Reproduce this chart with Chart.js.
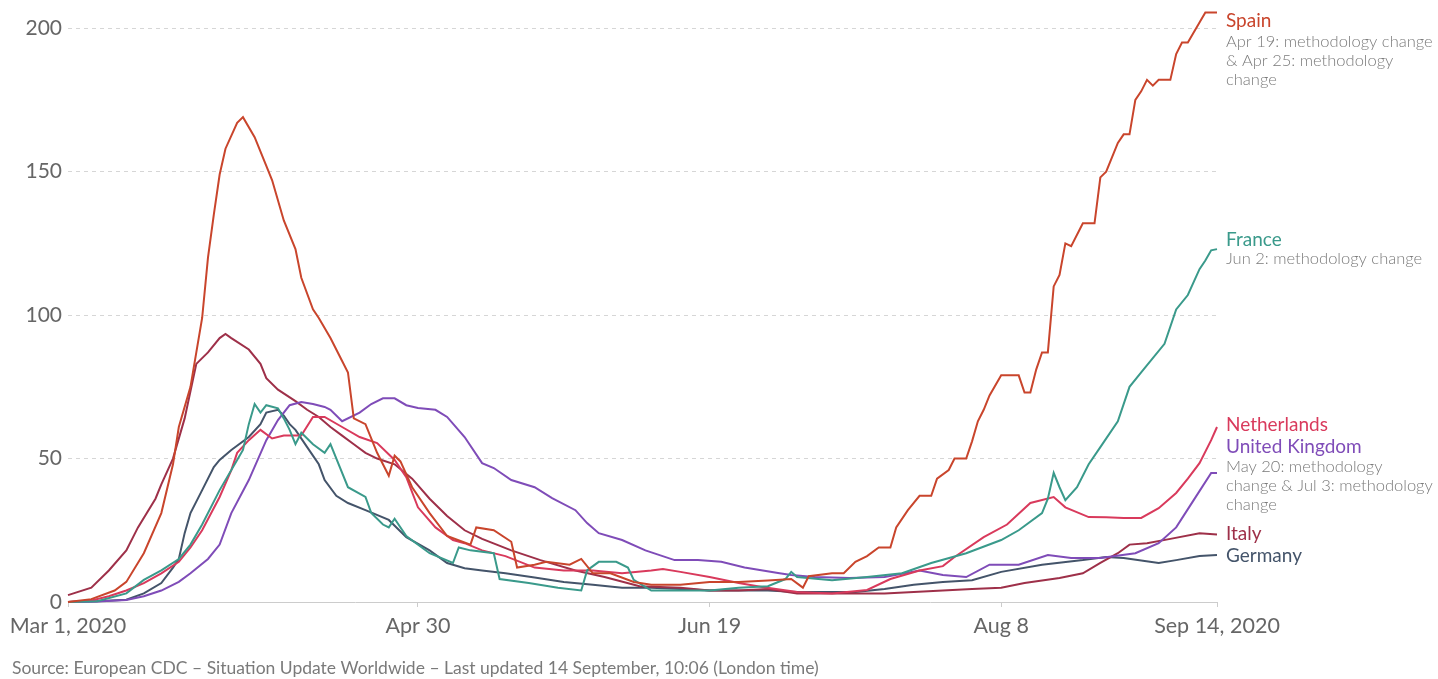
<!DOCTYPE html>
<html>
<head>
<meta charset="utf-8">
<script src="https://cdn.jsdelivr.net/npm/chart.js@4"></script>
<style>
  body { margin: 0; background: #fff; }
  canvas { display: block; }
</style>
</head>
<body>
<canvas id="chart" width="1438" height="679"></canvas>
<script>
// days counted from Mar 1, 2020
const tickDays = [0, 60, 110, 160, 197];
const tickLabels = ['Mar 1, 2020', 'Apr 30', 'Jun 19', 'Aug 8', 'Sep 14, 2020'];

const spainDays = [0, 4, 8, 10, 13, 16, 18, 19, 21, 23, 24, 25, 26, 27, 29, 30, 32, 34, 35, 37, 39, 40, 42, 43, 45, 47, 48, 49, 51, 53, 55, 56, 57, 59, 62, 65, 69, 70, 73, 76, 77, 80, 82, 86, 88, 90, 93, 97, 100, 105, 110, 115, 120, 124, 126, 127, 131, 133, 135, 137, 139, 141, 142, 144, 146, 148, 149, 151, 152, 154, 155, 156, 157, 158, 160, 162, 163, 164, 165, 166, 167, 168, 169, 170, 171, 172, 174, 176, 177, 178, 180, 181, 182, 183, 184, 185, 186, 187, 189, 190, 191, 192, 194, 195, 197];
const spainValues = [0, 1, 4, 7, 17, 31, 48, 61, 75, 99, 120, 135, 149, 158, 167, 169, 162, 152, 147, 133, 123, 113, 102, 99, 92, 84, 80, 64, 62, 52, 44, 51, 49, 40, 31, 23, 20, 26, 25, 21, 12, 13, 14, 13, 15, 10, 10, 7, 6, 6, 7, 7, 7.5, 8, 5, 9, 10, 10, 14, 16, 19, 19, 26, 32, 37, 37, 43, 46, 50, 50, 56, 63, 67, 72, 79, 79, 79, 73, 73, 81, 87, 87, 110, 114, 125, 124, 132, 132, 148, 150, 160, 163, 163, 175, 178, 182, 180, 182, 182, 191, 195, 195, 202, 205.5, 205.5];

const franceDays = [0, 5, 10, 13, 16, 19, 21, 23, 26, 29, 30, 31, 32, 33, 34, 36, 37, 38, 39, 40, 42, 44, 45, 48, 51, 52, 54, 55, 56, 58, 62, 66, 67, 69, 73, 74, 79, 84, 88, 89, 91, 94, 96, 97, 100, 105, 110, 115, 120, 123, 124, 125, 131, 137, 143, 148, 154, 160, 163, 167, 168, 169, 170, 171, 173, 175, 177, 180, 182, 184, 188, 190, 192, 194, 195, 196, 197];
const franceValues = [0, 0.3, 3, 7.7, 11, 15, 20, 27, 39, 49.5, 53, 62, 69, 66, 68.6, 67.5, 64, 60, 55, 59, 55, 52, 55, 40, 36.6, 31, 27, 26, 29, 23, 17, 13.6, 19, 18, 17, 8, 6.6, 5, 4, 11, 14, 14, 12, 7.7, 4, 4, 4, 5, 5.5, 8, 10.5, 8.7, 7.6, 8.7, 10, 13.6, 17, 21.6, 25, 31, 36, 45, 40, 35.5, 40, 48, 54, 63, 75, 80, 90, 102, 107, 116, 119, 122.6, 123];

const netherlandsDays = [0, 4, 7, 10, 13, 16, 19, 21, 23, 26, 28, 29, 31, 33, 35, 37, 40, 42, 44, 47, 50, 53, 56, 58, 60, 63, 66, 68, 71, 75, 80, 85, 90, 95, 100, 102, 105, 110, 115, 119, 125, 131, 137, 141, 146, 150, 152, 157, 161, 165, 169, 171, 175, 178, 181, 184, 187, 190, 192, 194, 196, 197];
const netherlandsValues = [0, 0.5, 2, 4, 6.6, 10, 14, 19, 25, 36.6, 46, 52, 56.4, 60, 57, 58, 58, 64.5, 64.5, 61, 57.5, 55.4, 49.5, 43.5, 33, 26, 21.6, 20.5, 18, 16, 12, 11, 11, 10, 11, 11.5, 10.5, 8.7, 6.6, 5.2, 3.5, 3, 4.2, 8, 11, 12.5, 15.7, 22.6, 27, 34.5, 36.6, 33, 29.6, 29.5, 29.3, 29.3, 32.7, 38, 43, 48.4, 56.4, 61];

const ukDays = [0, 5, 10, 13, 16, 19, 21, 24, 26, 28, 31, 34, 36, 38, 40, 42, 44, 45, 47, 50, 52, 54, 56, 58, 60, 63, 65, 68, 71, 73, 76, 80, 83, 87, 89, 91, 95, 99, 104, 108, 112, 116, 122, 124, 128, 134, 140, 146, 150, 154, 158, 163, 168, 172, 177, 183, 187, 190, 193, 196, 197];
const ukValues = [0, 0.2, 0.7, 2, 4, 7, 10, 15, 20, 31, 42.5, 56.4, 63.4, 68.6, 69.7, 69, 68, 67, 63, 66, 69, 71, 71, 68.6, 67.6, 67, 64.5, 57.5, 48.4, 46.7, 42.5, 40, 36.2, 32, 27.5, 24, 21.6, 18, 14.6, 14.6, 14, 12, 10, 9.4, 8.7, 8.4, 8.7, 11, 9.4, 8.7, 13, 13, 16.4, 15.3, 15.3, 17, 20.5, 26, 35.5, 45, 45];

const italyDays = [0, 4, 7, 10, 12, 15, 16, 18, 20, 22, 24, 26, 27, 28, 31, 33, 34, 36, 39, 41, 43, 45, 47, 49, 51, 53, 56, 59, 62, 65, 68, 71, 76, 81, 87, 92, 98, 105, 110, 115, 120, 125, 130, 135, 140, 145, 150, 155, 160, 164, 170, 174, 177, 180, 182, 185, 189, 194, 197];
const italyValues = [2.4, 5, 11, 18, 26, 36, 41, 50, 64, 83, 87, 92, 93.4, 92, 88, 83, 78, 74, 70, 67, 64.5, 61, 58, 55, 52, 50, 48, 43, 36, 30, 25, 22, 18, 14.6, 11, 8.7, 5.5, 5, 4, 4, 4.5, 3, 3, 3, 3, 3.5, 4, 4.5, 5, 6.6, 8.4, 10, 13.6, 17, 20, 20.5, 22, 24, 23.5];

const germanyDays = [0, 5, 10, 13, 16, 18, 19, 20, 21, 23, 25, 26, 28, 31, 33, 34, 36, 37, 38, 39, 41, 43, 44, 46, 48, 51, 55, 58, 62, 65, 68, 71, 75, 80, 85, 90, 95, 100, 105, 110, 115, 120, 125, 130, 135, 140, 145, 150, 155, 160, 167, 174, 178, 181, 187, 190, 194, 197];
const germanyValues = [0, 0.3, 0.8, 3, 6.6, 12, 15, 24, 31, 39, 47, 49.5, 53, 57.5, 62, 66, 67, 65, 62, 60, 54, 48, 42.5, 37, 34.5, 32, 28.6, 22.6, 18, 13.6, 11.8, 11, 10, 8.5, 7, 6, 5, 5, 4.5, 4, 4, 4, 3.5, 3.5, 3.5, 4.5, 6, 7, 7.6, 10.5, 13, 14.6, 15.7, 15.3, 13.6, 14.6, 16, 16.4];

const colors = {
    spain: '#c9452c',
    france: '#3a9a8b',
    netherlands: '#d93a5c',
    uk: '#7f4cb8',
    italy: '#9e3049',
    germany: '#44546a'
};

const sourceText = 'Source: European CDC \u2013 Situation Update Worldwide \u2013 Last updated 14 September, 10:06 (London time)';

function toPoints(days, values) {
    return days.map((d, i) => ({ x: d, y: values[i] }));
}

function makeLine(label, days, values, color) {
    return {
        label: label,
        data: toPoints(days, values),
        borderColor: color,
        backgroundColor: color,
        borderWidth: 2,
        pointRadius: 0,
        tension: 0,
        fill: false,
        clip: false
    };
}

// labels to the right of the line ends, plus the source note
const endLabels = {
    id: 'endLabels',
    afterDraw(chart) {
        const ctx = chart.ctx;
        const x = 1226;
        const items = [
            { y: 21, text: 'Spain', color: colors.spain },
            { y: 42, text: 'Apr 19: methodology change', note: true },
            { y: 61, text: '& Apr 25: methodology', note: true },
            { y: 80, text: 'change', note: true },
            { y: 240, text: 'France', color: colors.france },
            { y: 259, text: 'Jun 2: methodology change', note: true },
            { y: 425, text: 'Netherlands', color: colors.netherlands },
            { y: 447, text: 'United Kingdom', color: colors.uk },
            { y: 467, text: 'May 20: methodology', note: true },
            { y: 486, text: 'change & Jul 3: methodology', note: true },
            { y: 505, text: 'change', note: true },
            { y: 534, text: 'Italy', color: colors.italy },
            { y: 556, text: 'Germany', color: colors.germany }
        ];
        ctx.save();
        ctx.textAlign = 'left';
        ctx.textBaseline = 'middle';
        items.forEach(item => {
            if (item.note) {
                ctx.font = '300 16.5px Lato';
                ctx.fillStyle = '#7a7a7a';
            } else {
                ctx.font = '19px Lato';
                ctx.fillStyle = item.color;
            }
            ctx.fillText(item.text, x, item.y);
        });
        ctx.font = '17.5px Lato';
        ctx.fillStyle = '#7a7a7a';
        ctx.fillText(sourceText, 12, 668);
        ctx.restore();
    }
};

const ctx = document.getElementById('chart').getContext('2d');
new Chart(ctx, {
    type: 'line',
    data: {
        datasets: [
            makeLine('Spain', spainDays, spainValues, colors.spain),
            makeLine('France', franceDays, franceValues, colors.france),
            makeLine('Netherlands', netherlandsDays, netherlandsValues, colors.netherlands),
            makeLine('United Kingdom', ukDays, ukValues, colors.uk),
            makeLine('Italy', italyDays, italyValues, colors.italy),
            makeLine('Germany', germanyDays, germanyValues, colors.germany)
        ]
    },
    options: {
        responsive: false,
        animation: false,
        devicePixelRatio: 1,
        layout: {
            padding: { top: 11, right: 221, bottom: 37, left: 0 }
        },
        plugins: {
            legend: { display: false },
            tooltip: { enabled: false }
        },
        scales: {
            x: {
                type: 'linear',
                min: 0,
                max: 197,
                afterBuildTicks: scale => {
                    scale.ticks = tickDays.map(v => ({ value: v }));
                },
                afterFit: scale => { scale.height = 40; },
                grid: {
                    drawOnChartArea: false,
                    tickLength: 5,
                    color: '#cccccc'
                },
                border: { color: '#cccccc', width: 1 },
                ticks: {
                    autoSkip: false,
                    maxRotation: 0,
                    padding: 6,
                    color: '#666666',
                    font: { family: 'Lato', size: 21.5 },
                    callback: v => tickLabels[tickDays.indexOf(v)]
                }
            },
            y: {
                min: 0,
                max: 206,
                afterFit: scale => {
                    scale.width = 68;
                    scale.paddingTop = 0;
                    scale.paddingBottom = 0;
                },
                grid: {
                    drawTicks: false,
                    color: c => c.tick.value === 0 ? 'rgba(0,0,0,0)' : '#d6d6d6'
                },
                border: { display: false, dash: [4, 4] },
                ticks: {
                    stepSize: 50,
                    includeBounds: false,
                    padding: 6,
                    color: '#666666',
                    font: { family: 'Lato', size: 21 }
                }
            }
        }
    },
    plugins: [endLabels]
});
</script>
</body>
</html>
